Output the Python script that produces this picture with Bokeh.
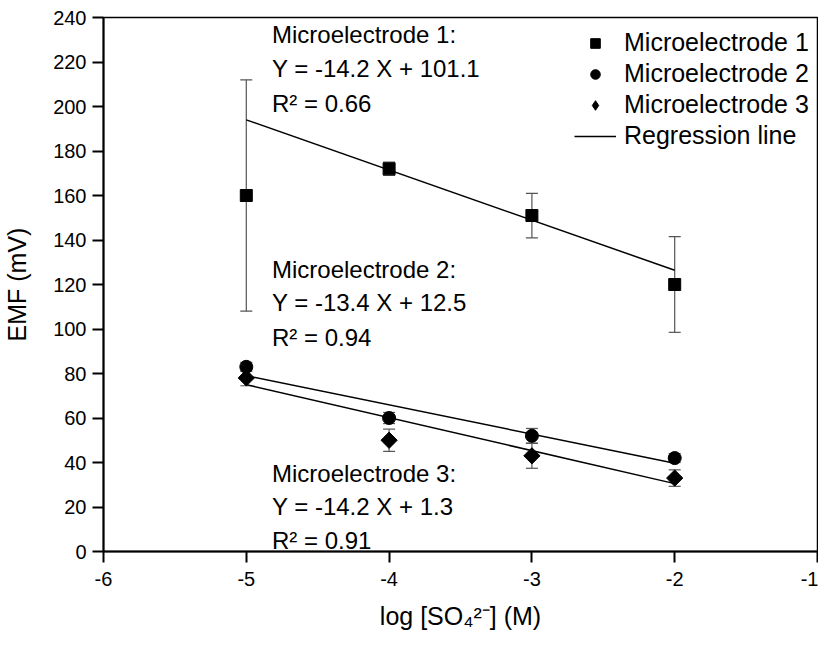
import math
from bokeh.plotting import figure
from bokeh.models import (ColumnDataSource, Whisker, TeeHead, Legend, LegendItem,
                          Label, FixedTicker, Range1d)
from bokeh.embed import file_html
from bokeh.resources import INLINE

# ---- data ----
x_log = [-5, -4, -3, -2]
emf_m1 = [160, 172, 151, 120]
err_m1 = [52, 3, 10, 21.5]
emf_m2 = [83, 60, 52, 42]
err_m2 = [2, 2.5, 3.3, 2]
emf_m3 = [78, 50, 43, 33]
err_m3 = [3.5, 5, 5.6, 3.7]

fit_x = [-5, -2]
fit_m1 = [194, 126.4]
fit_m2 = [79, 39.7]
fit_m3 = [75, 30.5]

x_ticks = [-6, -5, -4, -3, -2, -1]
y_ticks = list(range(0, 241, 20))

ann_m1 = ["Microelectrode 1:", "Y = -14.2 X + 101.1", "R\u00b2 = 0.66"]
ann_m2 = ["Microelectrode 2:", "Y = -13.4 X + 12.5", "R\u00b2 = 0.94"]
ann_m3 = ["Microelectrode 3:", "Y = -14.2 X + 1.3", "R\u00b2 = 0.91"]

FONT = "Liberation Sans"

p = figure(width=818, height=632, output_backend="svg", toolbar_location=None,
           x_range=Range1d(-6, -1), y_range=Range1d(0, 240),
           min_border_left=103, min_border_right=1, min_border_top=17, min_border_bottom=80)
p.background_fill_color = "white"
p.border_fill_color = "white"
p.grid.visible = False
p.outline_line_color = "black"
p.outline_line_width = 1.5

for ax in (p.xaxis[0], p.yaxis[0]):
    ax.axis_line_width = 2
    ax.axis_line_color = "black"
    ax.major_tick_line_width = 2
    ax.major_tick_line_color = "black"
    ax.major_tick_out = 11
    ax.major_tick_in = 0
    ax.minor_tick_line_color = None
    ax.major_label_text_font = FONT
    ax.major_label_text_font_size = "20px"
    ax.major_label_text_color = "black"
    ax.axis_label_text_font = FONT
    ax.axis_label_text_font_style = "normal"
    ax.axis_label_text_color = "black"
    ax.axis_label_text_font_size = "25px"

p.xaxis.ticker = FixedTicker(ticks=x_ticks)
p.yaxis.ticker = FixedTicker(ticks=y_ticks)
p.xaxis.major_label_overrides = {t: str(t) for t in x_ticks}
p.xaxis.major_label_standoff = 9
p.yaxis.major_label_standoff = 6
p.yaxis.axis_label = "EMF (mV)"
p.yaxis.axis_label_standoff = 19
p.xaxis.axis_label = "log [SO\u2084\u00b2\u207b] (M)"
p.xaxis.axis_label_standoff = 13

def with_err(vals, errs):
    return dict(x=x_log, y=vals,
                lo=[a - b for a, b in zip(vals, errs)],
                hi=[a + b for a, b in zip(vals, errs)])

src1 = ColumnDataSource(with_err(emf_m1, err_m1))
src2 = ColumnDataSource(with_err(emf_m2, err_m2))
src3 = ColumnDataSource(with_err(emf_m3, err_m3))

# regression lines
l1 = p.line(fit_x, fit_m1, line_color="black", line_width=1.5)
p.line(fit_x, fit_m2, line_color="black", line_width=1.5)
p.line(fit_x, fit_m3, line_color="black", line_width=1.5)

# error bars
for s in (src1, src2, src3):
    w = Whisker(base="x", upper="hi", lower="lo", source=s,
                line_color="#555555", line_width=1.2,
                upper_head=TeeHead(size=12, line_color="#555555", line_width=1.2),
                lower_head=TeeHead(size=12, line_color="#555555", line_width=1.2))
    p.add_layout(w)

r1 = p.scatter("x", "y", source=src1, marker="square", size=12, color="black")
r2 = p.scatter("x", "y", source=src2, marker="circle", size=13, color="black")
r3 = p.scatter("x", "y", source=src3, marker="square", size=11.5, angle=math.pi / 4,
               color="black")
# legend-only glyph for the diamond (legend ignores marker angle); hidden on the plot
r3_leg = p.scatter("x", "y", source=src3, marker="diamond", size=19, color="black",
                   visible=False)

legend = Legend(items=[LegendItem(label="Microelectrode 1", renderers=[r1]),
                       LegendItem(label="Microelectrode 2", renderers=[r2]),
                       LegendItem(label="Microelectrode 3", renderers=[r3_leg]),
                       LegendItem(label="Regression line", renderers=[l1])],
                location=(471, 401), border_line_color=None, background_fill_alpha=0,
                label_text_font=FONT, label_text_font_size="25px", label_text_color="black",
                glyph_width=42, glyph_height=24, label_height=24, spacing=2,
                label_standoff=8, padding=0, margin=0)
p.add_layout(legend)

# equation annotations (text anchored in data space)
ann_x = -4.82
for lines, ys in ((ann_m1, [232.2, 217.0, 201.3]),
                  (ann_m2, [126.8, 112.0, 96.4]),
                  (ann_m3, [35.0, 20.2, 4.9])):
    for t, yy in zip(lines, ys):
        p.add_layout(Label(x=ann_x, y=yy, text=t, text_font=FONT, text_font_size="24px",
                           text_baseline="middle", text_align="left", text_color="black"))

open("out.html", "w").write(file_html(p, INLINE))
